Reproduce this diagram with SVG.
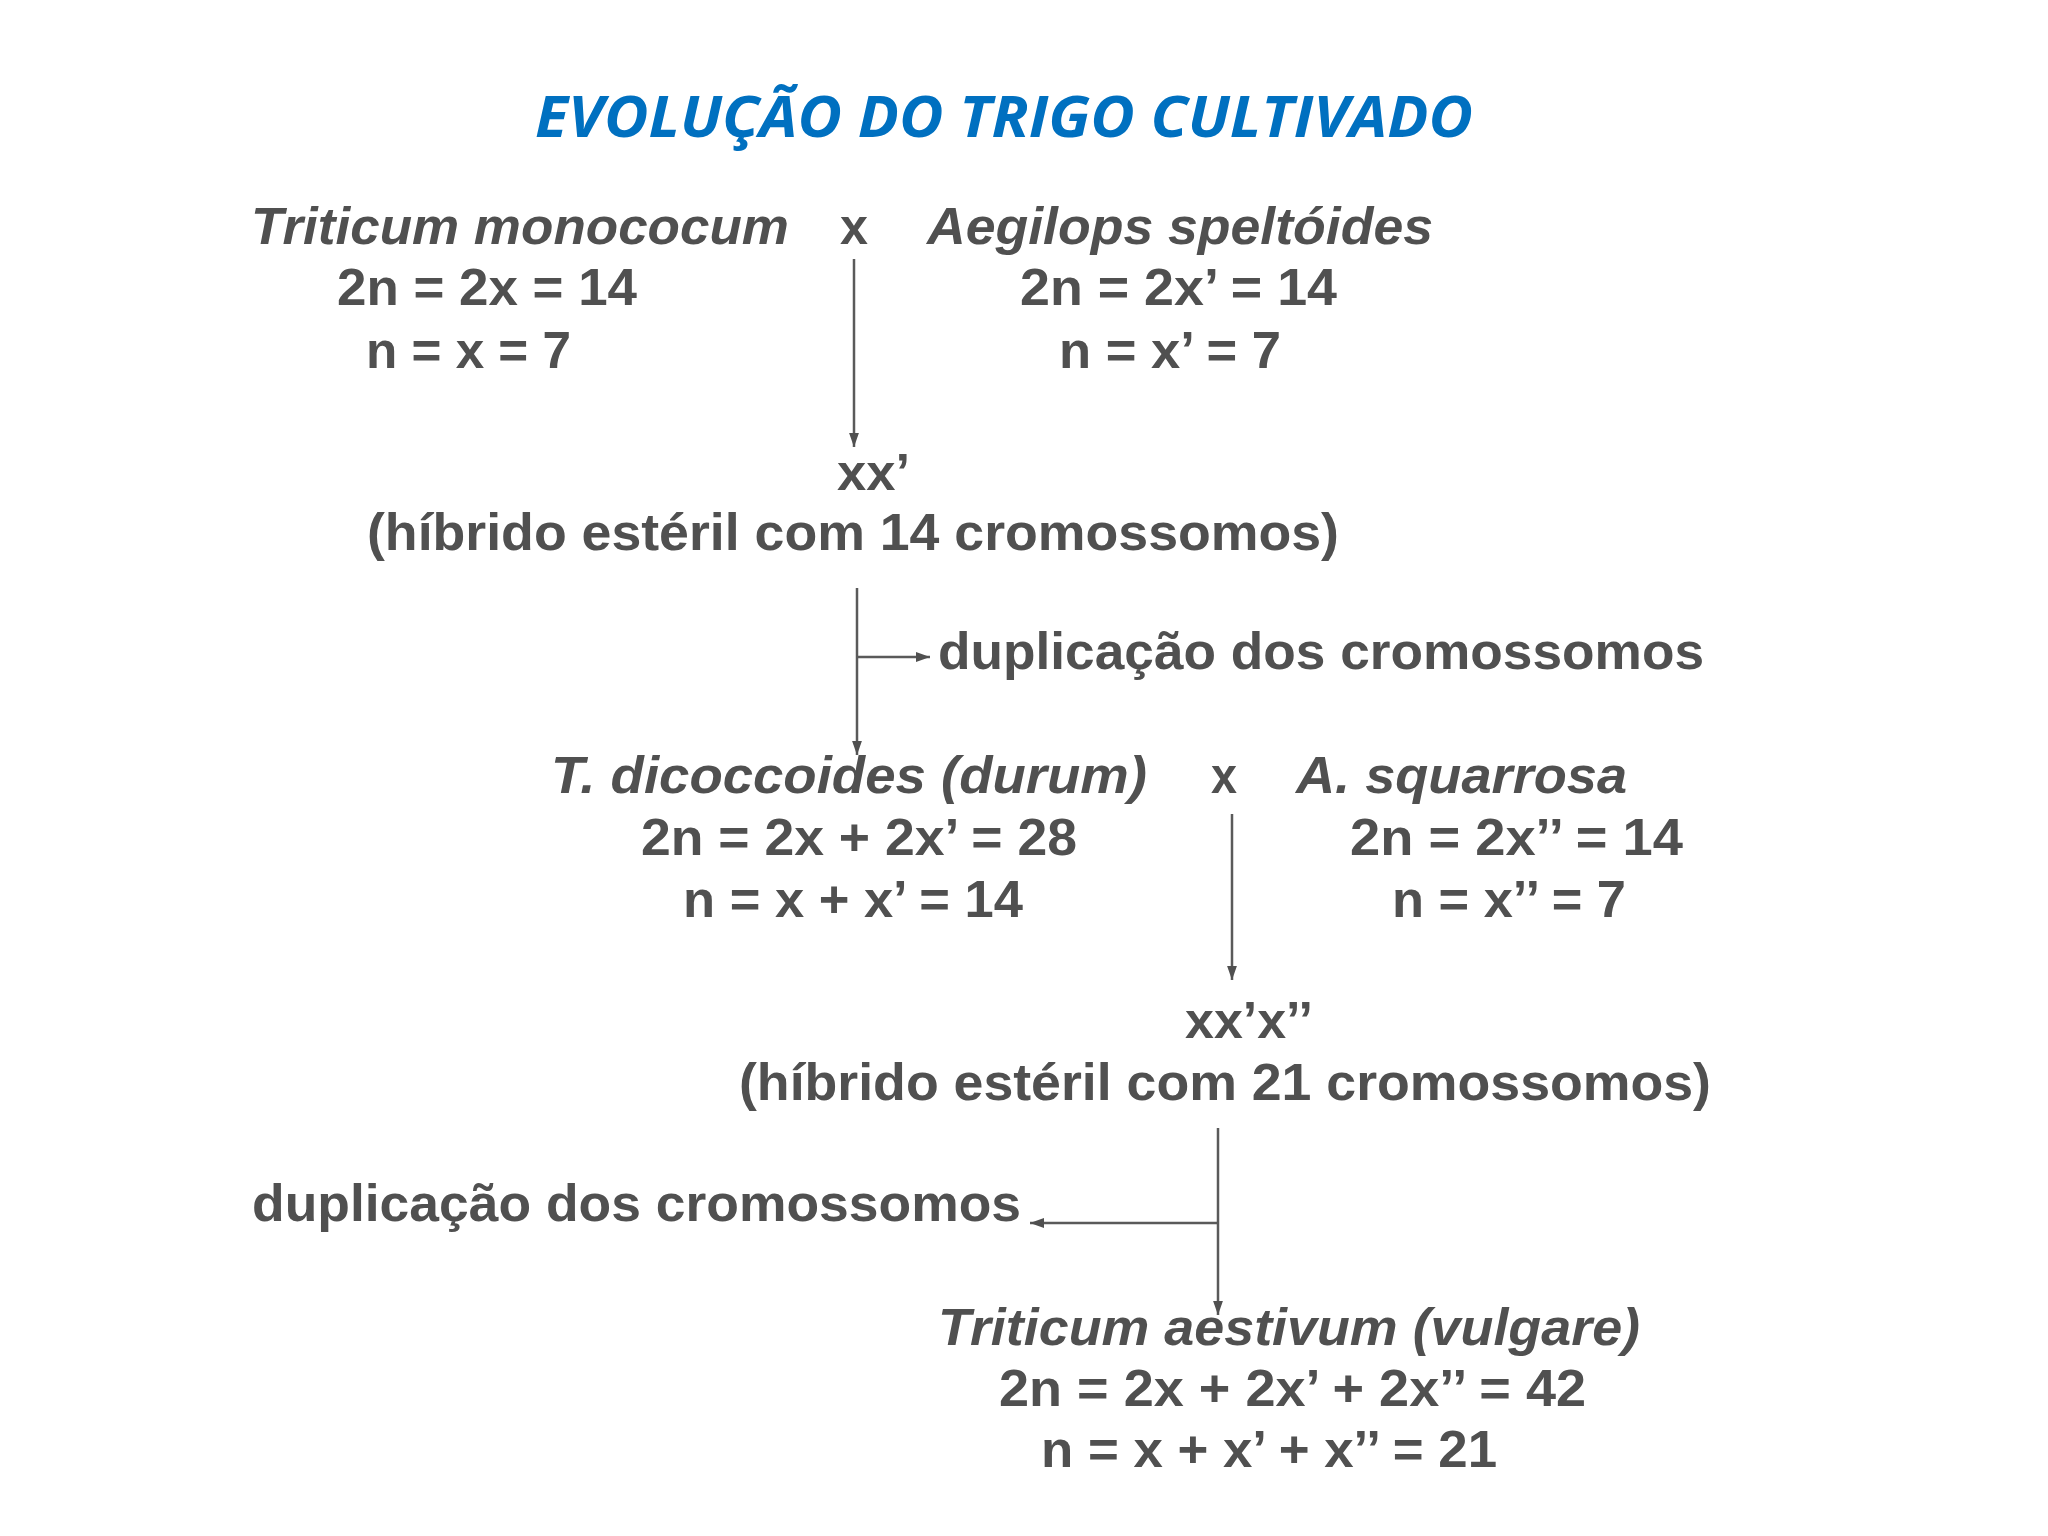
<svg xmlns="http://www.w3.org/2000/svg" width="2048" height="1536" viewBox="0 0 2048 1536">
<defs>
<style>
.t{font-family:"Liberation Sans",Arial,sans-serif;font-size:52px;font-weight:bold;fill:#505050}
.i{font-style:italic}
.title{font-family:"Open Sans","Liberation Sans",sans-serif;font-size:58px;font-weight:bold;font-style:italic;fill:#0070C0}
.ln{stroke:#5a5a5a;stroke-width:2.5;fill:none}
</style>
<marker id="ah2" viewBox="0 0 10 10" refX="10" refY="5" markerWidth="14" markerHeight="14" markerUnits="userSpaceOnUse" orient="auto"><path d="M0,1.5 L10,5 L0,8.5 Z" fill="#505050"/></marker>
</defs>
<rect width="2048" height="1536" fill="#ffffff"/>
<g id="title"><text class="title" x="535" y="137" textLength="938" lengthAdjust="spacingAndGlyphs">EVOLUÇÃO DO TRIGO CULTIVADO</text></g>
<g id="connectors">
<line class="ln" x1="854" y1="259" x2="854" y2="447" marker-end="url(#ah2)"/>
<line class="ln" x1="857" y1="588" x2="857" y2="755" marker-end="url(#ah2)"/>
<line class="ln" x1="857" y1="657" x2="930" y2="657" marker-end="url(#ah2)"/>
<line class="ln" x1="1232" y1="814" x2="1232" y2="980" marker-end="url(#ah2)"/>
<line class="ln" x1="1218" y1="1128" x2="1218" y2="1315" marker-end="url(#ah2)"/>
<line class="ln" x1="1218" y1="1223" x2="1030" y2="1223" marker-end="url(#ah2)"/>
</g>
<g id="n-monococum">
<text class="t i" x="251" y="244" textLength="538" lengthAdjust="spacingAndGlyphs">Triticum monococum</text>
<text class="t" x="337" y="305" textLength="300" lengthAdjust="spacingAndGlyphs">2n = 2x = 14</text>
<text class="t" x="366" y="368" textLength="205" lengthAdjust="spacingAndGlyphs">n = x = 7</text>
</g>
<g id="cross1"><text class="t" x="840" y="244" textLength="28" lengthAdjust="spacingAndGlyphs">x</text></g>
<g id="n-speltoides">
<text class="t i" x="927" y="244" textLength="506" lengthAdjust="spacingAndGlyphs">Aegilops speltóides</text>
<text class="t" x="1020" y="305" textLength="317" lengthAdjust="spacingAndGlyphs">2n = 2x’ = 14</text>
<text class="t" x="1059" y="368" textLength="222" lengthAdjust="spacingAndGlyphs">n = x’ = 7</text>
</g>
<g id="n-hybrid1">
<text class="t" x="837" y="490" textLength="73" lengthAdjust="spacingAndGlyphs">xx’</text>
<text class="t" x="367" y="550" textLength="972" lengthAdjust="spacingAndGlyphs">(híbrido estéril com 14 cromossomos)</text>
</g>
<g id="n-dup1"><text class="t" x="938" y="669" textLength="766" lengthAdjust="spacingAndGlyphs">duplicação dos cromossomos</text></g>
<g id="n-dicoccoides">
<text class="t i" x="551" y="793" textLength="596" lengthAdjust="spacingAndGlyphs">T. dicoccoides (durum)</text>
<text class="t" x="641" y="855" textLength="436" lengthAdjust="spacingAndGlyphs">2n = 2x + 2x’ = 28</text>
<text class="t" x="683" y="917" textLength="340" lengthAdjust="spacingAndGlyphs">n = x + x’ = 14</text>
</g>
<g id="cross2"><text class="t" x="1211" y="793" textLength="26" lengthAdjust="spacingAndGlyphs">x</text></g>
<g id="n-squarrosa">
<text class="t i" x="1296" y="793" textLength="331" lengthAdjust="spacingAndGlyphs">A. squarrosa</text>
<text class="t" x="1350" y="855" textLength="333" lengthAdjust="spacingAndGlyphs">2n = 2x’’ = 14</text>
<text class="t" x="1392" y="917" textLength="234" lengthAdjust="spacingAndGlyphs">n = x’’ = 7</text>
</g>
<g id="n-hybrid2">
<text class="t" x="1185" y="1038" textLength="128" lengthAdjust="spacingAndGlyphs">xx’x’’</text>
<text class="t" x="739" y="1100" textLength="972" lengthAdjust="spacingAndGlyphs">(híbrido estéril com 21 cromossomos)</text>
</g>
<g id="n-dup2"><text class="t" x="252" y="1221" textLength="769" lengthAdjust="spacingAndGlyphs">duplicação dos cromossomos</text></g>
<g id="n-aestivum">
<text class="t i" x="938" y="1345" textLength="702" lengthAdjust="spacingAndGlyphs">Triticum aestivum (vulgare)</text>
<text class="t" x="999" y="1406" textLength="587" lengthAdjust="spacingAndGlyphs">2n = 2x + 2x’ + 2x’’ = 42</text>
<text class="t" x="1041" y="1467" textLength="456" lengthAdjust="spacingAndGlyphs">n = x + x’ + x’’ = 21</text>
</g>
</svg>
